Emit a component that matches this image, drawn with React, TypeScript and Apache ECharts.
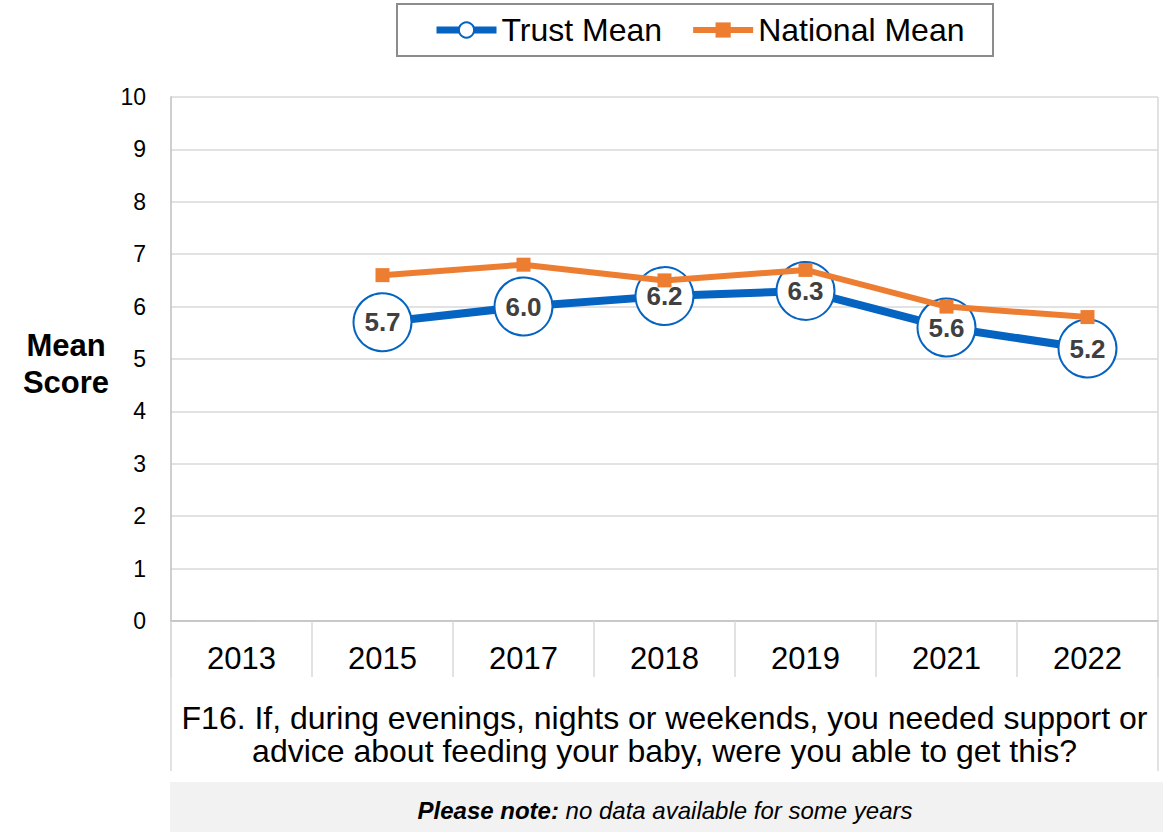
import React, { useEffect, useRef } from "react";
import * as echarts from "echarts";

const years = ["2013", "2015", "2017", "2018", "2019", "2021", "2022"];
const trustMean = [null, 5.7, 6.0, 6.2, 6.3, 5.6, 5.2];
const nationalMean = [null, 6.6, 6.8, 6.5, 6.7, 6.0, 5.8];
const yTicks = { min: 0, max: 10, interval: 1 };
const questionLines = [
  "F16. If, during evenings, nights or weekends, you needed support or",
  "advice about feeding your baby, were you able to get this?",
];

const FONT = "'Liberation Sans', Arial, Helvetica, sans-serif";
const BLUE = "#0563C1";
const ORANGE = "#ED7D31";
const GRID_LINE = "#d9d9d9";
const AXIS_LINE = "#bfbfbf";

export default function App() {
  const ref = useRef<HTMLDivElement>(null);
  useEffect(() => {
    if (!ref.current) return;
    const chart = echarts.init(ref.current, null, { renderer: "svg" });
    const left = 171;
    const right = 1158;
    const top = 97;
    const bottom = 621;
    chart.setOption({
      animation: false,
      backgroundColor: "#ffffff",
      textStyle: { fontFamily: FONT },
      grid: { left, right: 1163 - right, top, bottom: 832 - bottom, containLabel: false },
      legend: {
        left: 433,
        top: 14,
        itemWidth: 60,
        itemHeight: 19,
        itemGap: 28,
        padding: 0,
        selectedMode: false,
        textStyle: { fontSize: 32, color: "#000", fontFamily: FONT },
        data: [
          { name: "Trust Mean", lineStyle: { width: 7 }, itemStyle: { borderWidth: 2 } },
          { name: "National Mean", lineStyle: { width: 6 } },
        ],
      },
      xAxis: {
        type: "category",
        data: years,
        boundaryGap: true,
        axisLine: { show: true, lineStyle: { color: AXIS_LINE, width: 1.5 } },
        axisTick: { show: true, interval: 0, length: 56, alignWithLabel: false, lineStyle: { color: GRID_LINE, width: 1.5 } },
        axisLabel: { interval: 0, fontSize: 31, color: "#000", margin: 22, fontFamily: FONT },
        splitLine: { show: false },
      },
      yAxis: {
        type: "value",
        min: yTicks.min,
        max: yTicks.max,
        interval: yTicks.interval,
        axisLine: { show: true, lineStyle: { color: AXIS_LINE, width: 1.5 } },
        axisTick: { show: false },
        axisLabel: { fontSize: 23, color: "#000", margin: 25, fontFamily: FONT },
        splitLine: { show: true, lineStyle: { color: GRID_LINE, width: 1.5 } },
      },
      series: [
        {
          name: "Trust Mean",
          type: "line",
          data: trustMean,
          symbol: "circle",
          symbolSize: 58,
          showAllSymbol: true,
          connectNulls: false,
          lineStyle: { color: BLUE, width: 8 },
          itemStyle: { color: "#ffffff", borderColor: BLUE, borderWidth: 2 },
          label: {
            show: true,
            position: "inside",
            formatter: (p: any) => (p.value == null ? "" : Number(p.value).toFixed(1)),
            fontSize: 26,
            fontWeight: "bold",
            color: "#404040",
            fontFamily: FONT,
          },
          z: 2,
        },
        {
          name: "National Mean",
          type: "line",
          data: nationalMean,
          symbol: "rect",
          symbolSize: 14,
          showAllSymbol: true,
          lineStyle: { color: ORANGE, width: 6 },
          itemStyle: { color: ORANGE, borderWidth: 0 },
          label: { show: false },
          z: 3,
        },
      ],
      graphic: [
        {
          type: "rect",
          shape: { x: 397, y: 4, width: 596, height: 52 },
          style: { fill: "none", stroke: "#8c8c8c", lineWidth: 2 },
          silent: true,
          z: 0,
        },
        {
          type: "line",
          shape: { x1: left, y1: bottom, x2: left, y2: 771 },
          style: { stroke: GRID_LINE, lineWidth: 1.5 },
          silent: true,
        },
        {
          type: "line",
          shape: { x1: right, y1: top, x2: right, y2: 771 },
          style: { stroke: GRID_LINE, lineWidth: 1.5 },
          silent: true,
        },
        {
          type: "text",
          x: 66,
          y: 345,
          style: { text: "Mean", fontSize: 31, fontWeight: "bold", fill: "#000", align: "center", verticalAlign: "middle", fontFamily: FONT },
        },
        {
          type: "text",
          x: 66,
          y: 382,
          style: { text: "Score", fontSize: 31, fontWeight: "bold", fill: "#000", align: "center", verticalAlign: "middle", fontFamily: FONT },
        },
        ...questionLines.map((t, i) => ({
          type: "text",
          x: (left + right) / 2,
          y: 718 + i * 33,
          style: { text: t, fontSize: 32, fill: "#000", align: "center", verticalAlign: "middle", fontFamily: FONT },
        })),
        {
          type: "rect",
          shape: { x: 170, y: 782, width: 993, height: 50 },
          style: { fill: "#f2f2f2" },
          silent: true,
        },
        {
          type: "text",
          x: 665,
          y: 810,
          style: {
            text: "{b|Please note:}{i| no data available for some years}",
            align: "center",
            verticalAlign: "middle",
            fontFamily: FONT,
            rich: {
              b: { fontSize: 24, fontWeight: "bold", fontStyle: "italic", fill: "#000", fontFamily: FONT },
              i: { fontSize: 24, fontStyle: "italic", fill: "#000", fontFamily: FONT },
            },
          },
        },
      ],
    });
    return () => chart.dispose();
  }, []);
  return <div ref={ref} style={{ position: "absolute", left: 0, top: 0, width: 1163, height: 832 }} />;
}
